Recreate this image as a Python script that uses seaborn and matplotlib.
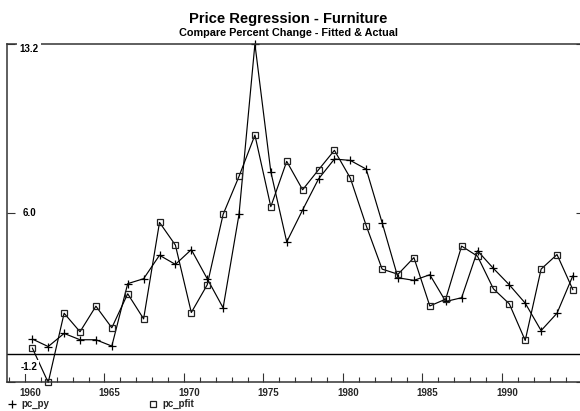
import numpy as np
import pandas as pd
import matplotlib
matplotlib.use("Agg")
import matplotlib.pyplot as plt
from matplotlib.lines import Line2D
from matplotlib.ticker import MultipleLocator, FixedLocator
from matplotlib.transforms import ScaledTranslation, blended_transform_factory
import seaborn as sns

# Annual observations, 1960-1994
years = list(range(1960, 1995))

# Actual percent change in furniture prices
pc_py = [0.63, 0.31, 0.87, 0.60, 0.60, 0.33, 2.99, 3.20, 4.20, 3.81,
         4.44, 3.20, 1.96, 5.94, 13.2, 7.76, 4.77, 6.13, 7.45, 8.30,
         8.24, 7.87, 5.59, 3.24, 3.13, 3.37, 2.23, 2.39, 4.39, 3.64,
         2.94, 2.16, 0.99, 1.73, 3.33]

# Fitted percent change from the regression
pc_pfit = [0.25, -1.22, 1.73, 0.94, 2.03, 1.11, 2.56, 1.49, 5.60, 4.63,
           1.76, 2.94, 5.94, 7.56, 9.32, 6.27, 8.20, 6.99, 7.84, 8.67,
           7.49, 5.46, 3.61, 3.39, 4.10, 2.04, 2.33, 4.59, 4.16, 2.77,
           2.13, 0.57, 3.61, 4.23, 2.73]

y_ticks = [-1.2, 6.0, 13.2]
y_tick_labels = ["-1.2", "6.0", "13.2"]
x_major = [1960, 1965, 1970, 1975, 1980, 1985, 1990]

title = "Price Regression - Furniture"
subtitle = "Compare Percent Change - Fitted & Actual"

sns.set_style("white")
plt.rcParams["font.family"] = ["Liberation Sans", "DejaVu Sans"]
plt.rcParams["font.weight"] = "bold"

df = pd.DataFrame({"year": years, "pc_py": pc_py, "pc_pfit": pc_pfit})
# observations sit at mid-year
df["t"] = df["year"] + 0.46

fig = plt.figure(figsize=(5.8, 4.11), dpi=100)
ax = fig.add_axes([7 / 580, 29 / 411, 573 / 580, 338 / 411])

sns.lineplot(data=df, x="t", y="pc_py", ax=ax, color="black", lw=0.85,
             marker="+", markersize=6, markeredgewidth=0.9,
             markeredgecolor="black", clip_on=False)
sns.lineplot(data=df, x="t", y="pc_pfit", ax=ax, color="black", lw=0.85,
             marker="s", markersize=4.6, markeredgewidth=0.9,
             markerfacecolor="none", markeredgecolor="#222222",
             clip_on=False)

ax.axhline(0, color="black", lw=1.0, zorder=1)

ax.set_xlim(1958.868, 1994.906)
ax.set_ylim(-1.2, 13.2)
ax.set_xlabel("")
ax.set_ylabel("")

for side in ["left", "bottom", "top"]:
    ax.spines[side].set_visible(True)
    ax.spines[side].set_color("#333333")
    ax.spines[side].set_linewidth(1.1)
ax.spines["right"].set_visible(False)

# x axis: major ticks every five years, minor every year, pointing inward
ax.xaxis.set_major_locator(FixedLocator(x_major))
ax.xaxis.set_minor_locator(MultipleLocator(1))
ax.set_xticks(x_major)
ax.set_xticklabels([str(y) for y in x_major], fontsize=7, fontweight="bold")
ax.tick_params(axis="x", which="major", direction="in", length=6.5,
               width=0.8, color="#333333", pad=4, bottom=True, top=False)
ax.tick_params(axis="x", which="minor", direction="in", length=3.6,
               width=0.8, color="#333333", bottom=True, top=False)
shift = ScaledTranslation(5 / 100, 0, fig.dpi_scale_trans)
for lab in ax.get_xticklabels():
    lab.set_transform(lab.get_transform() + shift)

# y axis: ticks inward on both sides, labels drawn inside the frame
ax.set_yticks(y_ticks)
ax.set_yticklabels([])
ax.tick_params(axis="y", which="major", direction="in", length=5.8,
               width=0.8, color="#333333", left=True, right=True)
for tk in ax.yaxis.get_major_ticks():
    tk.tick2line.set_markersize(3)

trans = blended_transform_factory(ax.transAxes, ax.transData)
label_offsets_pt = {"13.2": -3.8, "6.0": 0.0, "-1.2": 10.8}
for val, txt in zip(y_ticks, y_tick_labels):
    off = ScaledTranslation(0, label_offsets_pt[txt] / 72, fig.dpi_scale_trans)
    ax.text(0.0384, val, txt, transform=trans + off, ha="center",
            va="center", fontsize=7, fontweight="bold", color="black",
            bbox=dict(facecolor="white", edgecolor="none", pad=1.5),
            zorder=5)

fig.text(0.497, 1 - 19 / 411, title, ha="center", va="center",
         fontsize=10.6, fontweight="bold", color="black")
fig.text(0.497, 1 - 32.5 / 411, subtitle, ha="center", va="center",
         fontsize=7.8, fontweight="bold", color="black")

# legend entries along the bottom edge
h_py = Line2D([], [], color="black", marker="+", linestyle="none",
              markersize=6, markeredgewidth=0.9)
h_fit = Line2D([], [], color="#222222", marker="s", linestyle="none",
               markersize=4.6, markeredgewidth=0.9, markerfacecolor="none")
for h, lab, xpos in [(h_py, "pc_py", 0.0), (h_fit, "pc_pfit", 0.243)]:
    fig.legend([h], [lab], loc="lower left", bbox_to_anchor=(xpos, -0.012),
               frameon=False, handlelength=1.0, handletextpad=0.5,
               borderpad=0.2, prop={"size": 7, "weight": "bold"})

fig.savefig("out.png", dpi=100, facecolor="white")
